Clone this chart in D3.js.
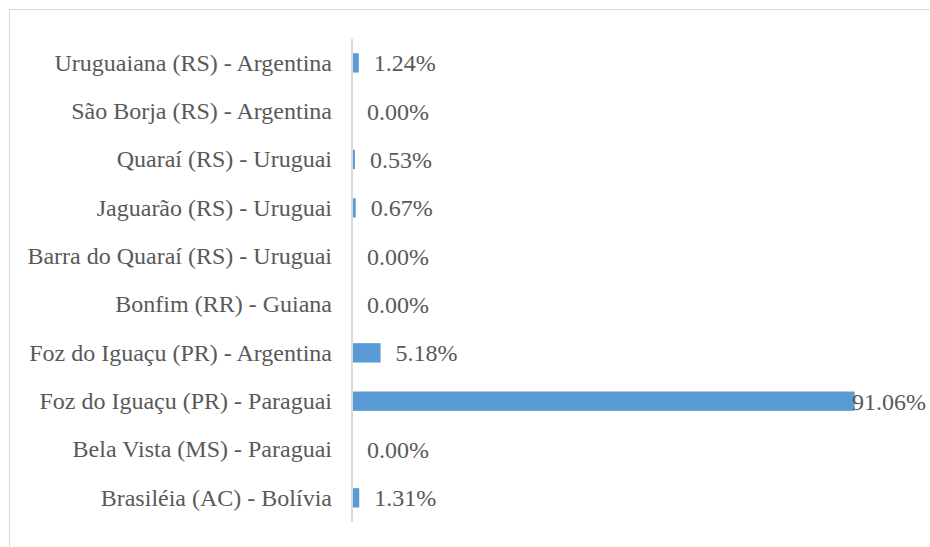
<!DOCTYPE html>
<html>
<head>
<meta charset="utf-8">
<script src="https://cdn.jsdelivr.net/npm/d3@7"></script>
</head>
<body style="margin:0;background:#fff">
<div id="chart"></div>
<script>
// categories top to bottom, as in the picture
const categories = [
  "Uruguaiana (RS) - Argentina",
  "São Borja (RS) - Argentina",
  "Quaraí (RS) - Uruguai",
  "Jaguarão (RS) - Uruguai",
  "Barra do Quaraí (RS) - Uruguai",
  "Bonfim (RR) - Guiana",
  "Foz do Iguaçu (PR) - Argentina",
  "Foz do Iguaçu (PR) - Paraguai",
  "Bela Vista (MS) - Paraguai",
  "Brasiléia (AC) - Bolívia"
]
const shares = [0.0124, 0, 0.0053, 0.0067, 0, 0, 0.0518, 0.9106, 0, 0.0131]

const W = 930, H = 547
const FONT = "Liberation Serif"

const svg = d3.select("#chart")
    .append("svg")
    .attr("width", W)
    .attr("height", H)
    .attr("font-family", FONT)

// chart frame
svg.append("rect")
    .attr("x", 9.5)
    .attr("y", 9.5)
    .attr("width", 940)
    .attr("height", 560)
    .attr("fill", "none")
    .attr("stroke", "#d9d9d9")

const x = d3.scaleLinear()
    .domain([0, 1])
    .range([352, 904])

const y = d3.scaleBand()
    .domain(categories)
    .range([38.7, 522])
    .paddingInner(0.6)
    .paddingOuter(0.3)

const data = categories.map((c, i) => ({ name: c, value: shares[i] }))

// bars
svg.selectAll("rect.bar")
    .data(data)
    .enter().append("rect")
    .attr("class", "bar")
    .attr("x", x(0))
    .attr("y", d => y(d.name))
    .attr("width", d => x(d.value) - x(0))
    .attr("height", y.bandwidth())
    .attr("fill", "#5b9bd5")

// category axis
const yAxisCall = d3.axisLeft(y).tickSize(0).tickPadding(20)
const yAxis = svg.append("g")
    .attr("class", "y axis")
    .attr("transform", `translate(${x(0)}, 0)`)
    .call(yAxisCall)
    .attr("font-family", FONT)
    .attr("font-size", 24)
yAxis.select(".domain")
    .attr("stroke", "#d9d9d9")
    .attr("stroke-width", 2)
    .attr("d", `M0,38.7V522`)
yAxis.selectAll("text")
    .attr("fill", "#595959")
    .attr("font-family", FONT)
    .attr("font-size", 24)

// value labels
const fmt = d3.format(".2%")
svg.selectAll("text.val")
    .data(data)
    .enter().append("text")
    .attr("class", "val")
    .attr("x", d => x(d.value) + 15)
    .attr("y", d => y(d.name) + y.bandwidth() / 2)
    .attr("dy", "0.35em")
    .attr("fill", "#595959")
    .attr("font-family", FONT)
    .attr("font-size", 24)
    .text(d => fmt(d.value))
    .each(function () {
        // keep the label inside the chart frame
        const w = this.getComputedTextLength()
        const lx = +d3.select(this).attr("x")
        if (lx + w > 926) d3.select(this).attr("x", 926 - w)
    })
</script>
</body>
</html>
